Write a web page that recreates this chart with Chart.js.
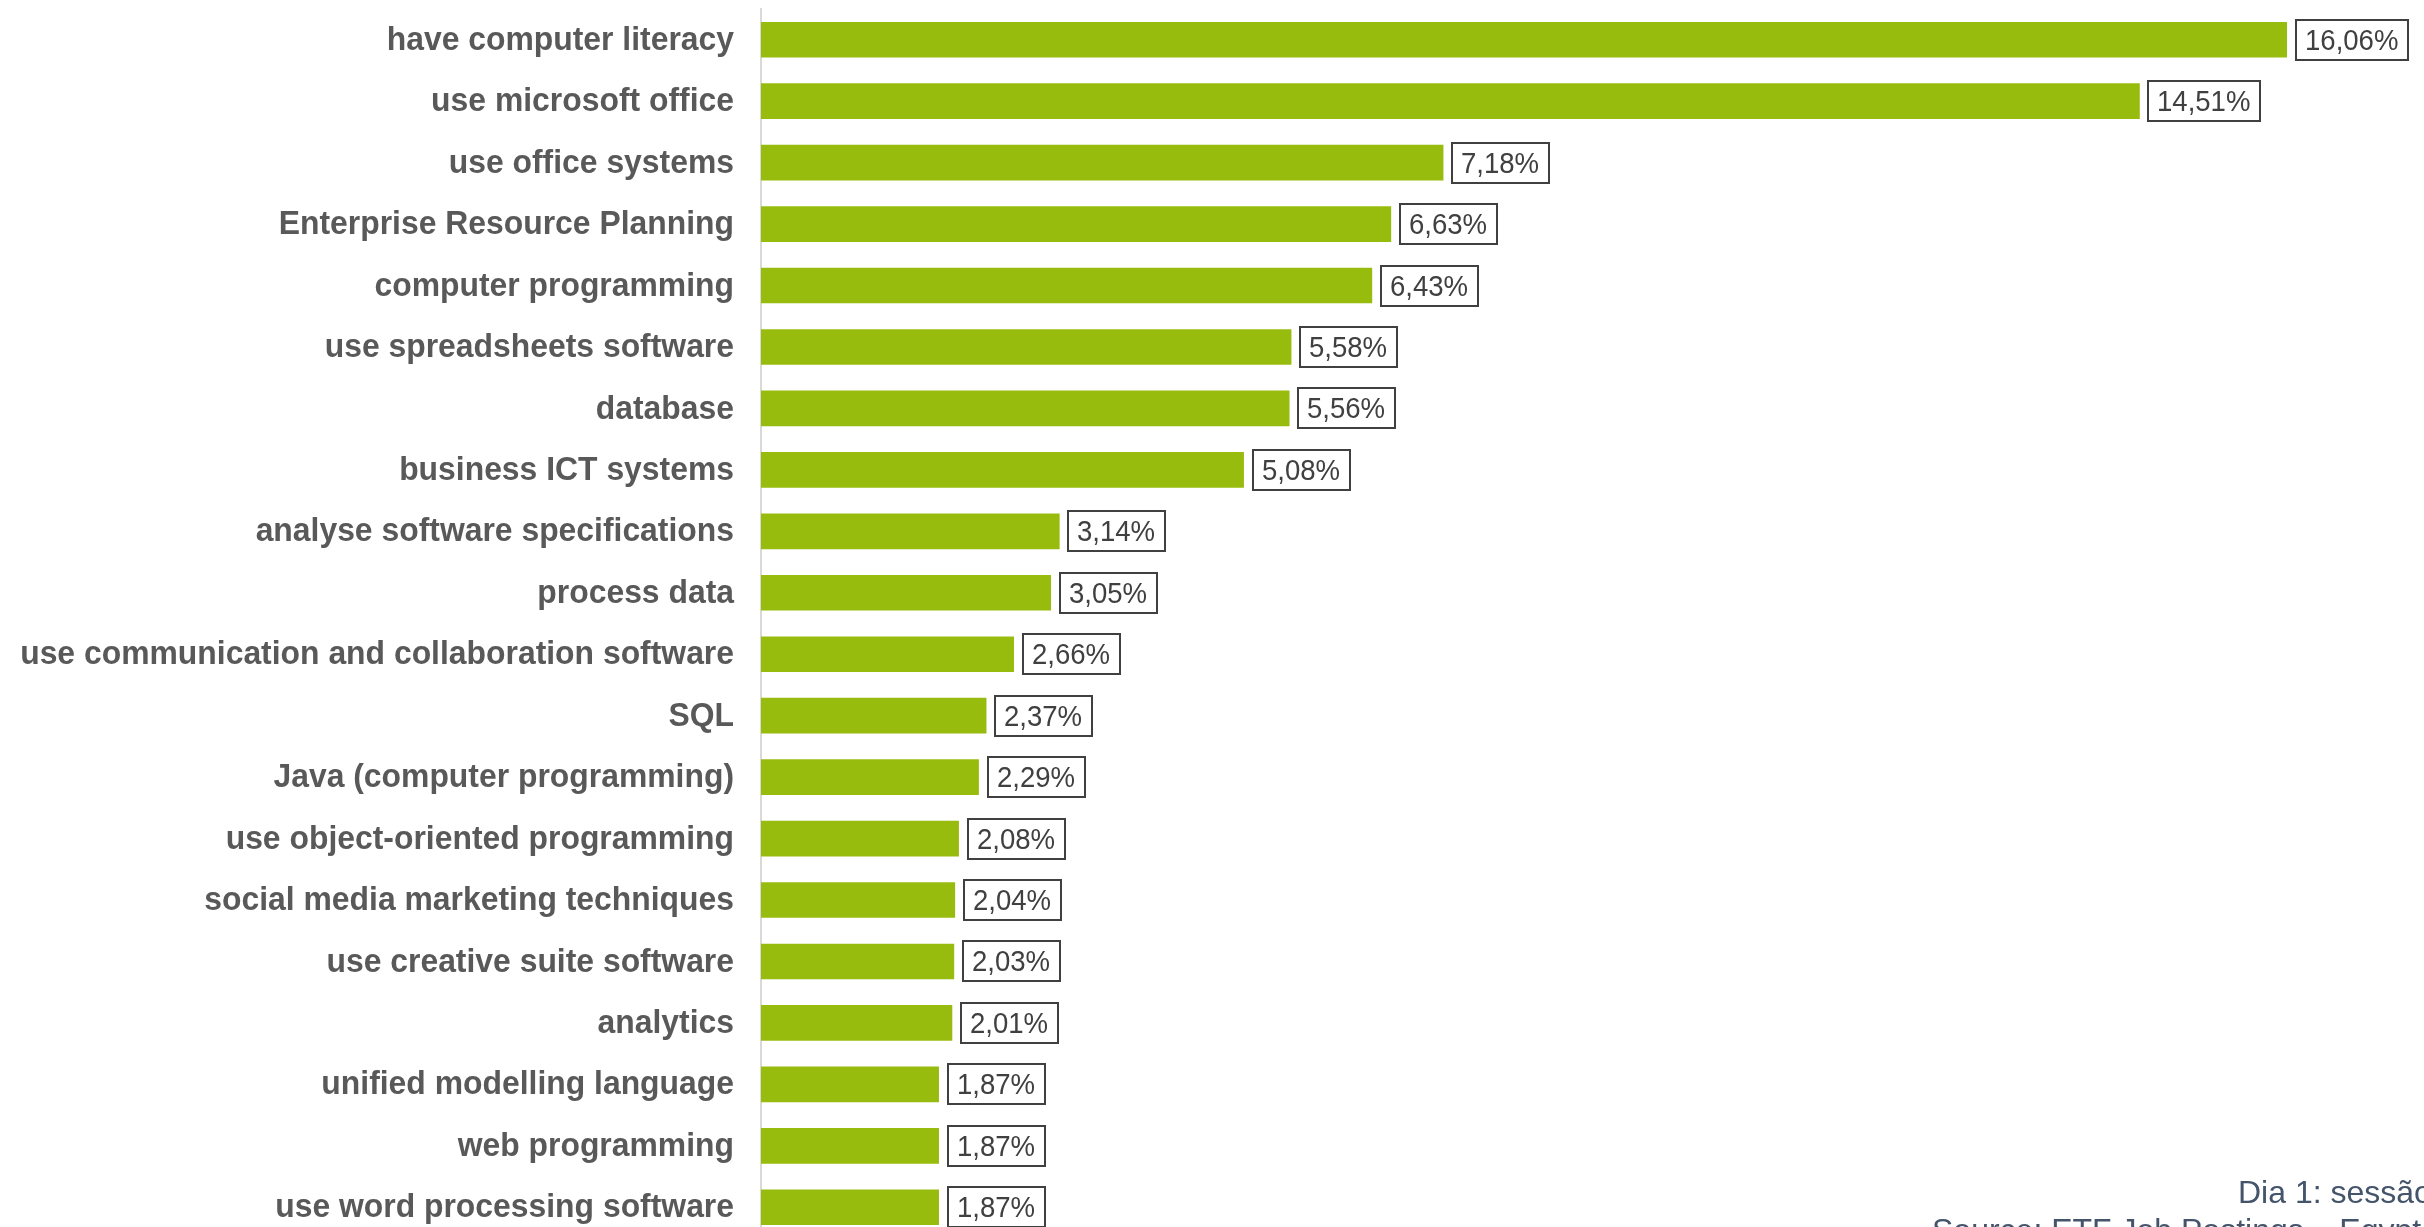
<!DOCTYPE html>
<html>
<head>
<meta charset="utf-8">
<script src="https://cdn.jsdelivr.net/npm/chart.js@4.4.1/dist/chart.umd.min.js"></script>
<style>
  html, body { margin:0; padding:0; background:#fff; overflow:hidden; width:2424px; height:1227px; }
  #wrap { position:relative; width:2424px; height:1227px; overflow:hidden; }
  #chart { position:absolute; left:0; top:0; }
  .note { position:absolute; font-family:"Liberation Sans", Arial, sans-serif; font-size:32px; line-height:32px; color:#44546A; white-space:nowrap; }
</style>
</head>
<body>
<div id="wrap">
  <canvas id="chart" width="2424" height="1240"></canvas>
  <div class="note" style="left:2238px; top:1176px;">Dia 1: sessão</div>
  <div class="note" style="left:1932px; top:1214px;">Source: ETF Job Postings – Egypt</div>
</div>
<script>
// ===== Data =====
const skills = [
    'have computer literacy',
    'use microsoft office',
    'use office systems',
    'Enterprise Resource Planning',
    'computer programming',
    'use spreadsheets software',
    'database',
    'business ICT systems',
    'analyse software specifications',
    'process data',
    'use communication and collaboration software',
    'SQL',
    'Java (computer programming)',
    'use object-oriented programming',
    'social media marketing techniques',
    'use creative suite software',
    'analytics',
    'unified modelling language',
    'web programming',
    'use word processing software'
];
const shares = [16.06, 14.51, 7.18, 6.63, 6.43, 5.58, 5.56, 5.08, 3.14, 3.05,
                2.66, 2.37, 2.29, 2.08, 2.04, 2.03, 2.01, 1.87, 1.87, 1.87];

const fmt = v => v.toFixed(2).replace('.', ',') + '%';
const FONT = '"Liberation Sans", Arial, sans-serif';

// ===== Category labels (slightly narrow, bold) =====
const narrowLabels = {
    id: 'narrowLabels',
    afterDraw(chart){
        const ctx = chart.ctx;
        const ys = chart.scales.y;
        ctx.save();
        ctx.font = 'bold 33px ' + FONT;
        ctx.fillStyle = '#595959';
        ctx.textAlign = 'right';
        ctx.textBaseline = 'middle';
        chart.data.labels.forEach((lab, i) => {
            ctx.save();
            ctx.translate(ys.right - 27, ys.getPixelForValue(i) + 1);
            ctx.scale(0.966, 1);
            ctx.fillText(lab, 0, 0);
            ctx.restore();
        });
        ctx.restore();
    }
};

// ===== Boxed value labels =====
const boxLabels = {
    id: 'boxLabels',
    afterDatasetsDraw(chart){
        const ctx = chart.ctx;
        const meta = chart.getDatasetMeta(0);
        const sx = 0.95;
        ctx.save();
        ctx.font = '29px ' + FONT;
        ctx.textBaseline = 'middle';
        ctx.textAlign = 'left';
        meta.data.forEach((bar, i) => {
            const txt = fmt(shares[i]);
            const tw = ctx.measureText(txt).width * sx;
            const w = Math.round(tw + 19);
            const h = 40;
            const x = Math.round(bar.x + 9);
            const y = Math.round(bar.y - h/2);
            ctx.fillStyle = '#fff';
            ctx.fillRect(x, y, w, h);
            ctx.strokeStyle = '#404040';
            ctx.lineWidth = 2;
            ctx.strokeRect(x, y, w, h);
            ctx.fillStyle = '#404040';
            ctx.save();
            ctx.translate(x + 9, bar.y + 2);
            ctx.scale(sx, 1);
            ctx.fillText(txt, 0, 0);
            ctx.restore();
        });
        ctx.restore();
    }
};

new Chart(document.getElementById('chart'), {
    type: 'bar',
    data: {
        labels: skills,
        datasets: [{
            data: shares,
            backgroundColor: '#98BC0E',
            borderWidth: 0,
            barThickness: 35
        }]
    },
    options: {
        indexAxis: 'y',
        responsive: false,
        animation: false,
        layout: { padding: { left: 0, right: 48, top: 9, bottom: 2 } },
        plugins: { legend: { display: false }, tooltip: { enabled: false } },
        scales: {
            x: { display: false, min: 0, max: 17 },
            y: {
                afterFit(scale){
                    scale.width = 761;
                    scale.paddingTop = 0;
                    scale.paddingBottom = 0;
                },
                grid: { display: false, drawTicks: false },
                border: { display: true, color: '#D9D9D9', width: 2 },
                ticks: { display: false }
            }
        }
    },
    plugins: [boxLabels, narrowLabels]
});
</script>
</body>
</html>
